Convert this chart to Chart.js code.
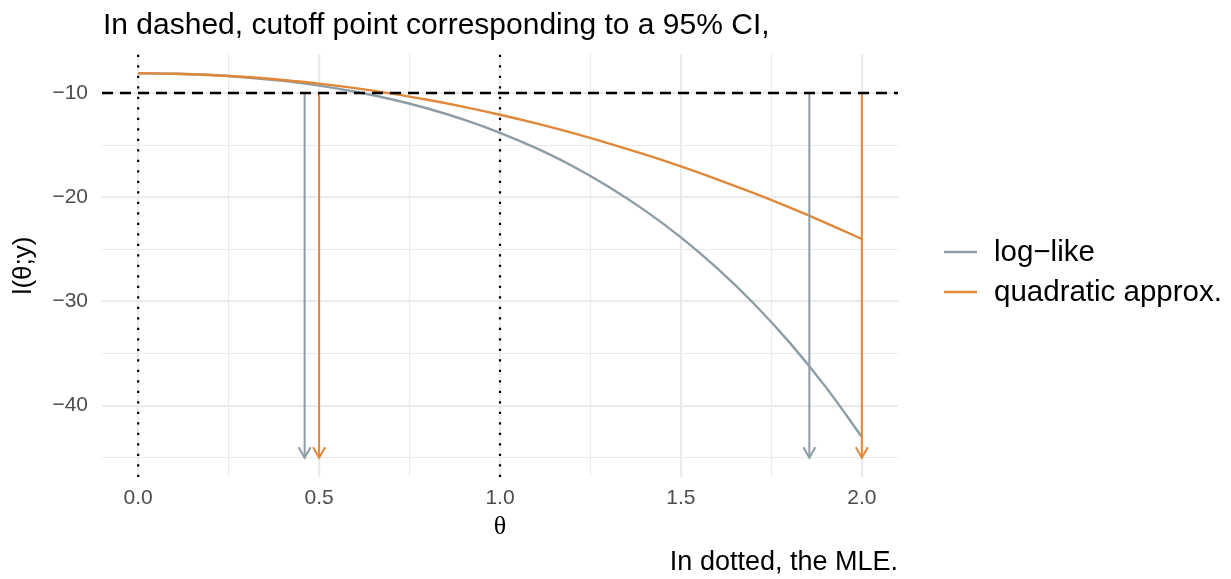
<!DOCTYPE html>
<html>
<head>
<meta charset="utf-8">
<script src="https://cdn.jsdelivr.net/npm/chart.js@4.4.0/dist/chart.umd.min.js"></script>
<style>
  html, body { margin: 0; padding: 0; background: #fff; }
  #wrap { width: 1231px; height: 579px; }
</style>
</head>
<body>
<div id="wrap"><canvas id="likChart" width="1231" height="579"></canvas></div>
<script>
// values
const theta = [0, 0.1, 0.2, 0.3, 0.4, 0.5, 0.6, 0.7, 0.8, 0.9, 1.0,
               1.1, 1.2, 1.3, 1.4, 1.5, 1.6, 1.7, 1.8, 1.9, 2.0];
const logLike = [-8.10, -8.14, -8.27, -8.50, -8.83, -9.28, -9.87, -10.59, -11.48, -12.55, -13.81,
                 -15.29, -17.00, -18.99, -21.26, -23.85, -26.81, -30.15, -33.93, -38.20, -42.99];
const quadApprox = [-8.10, -8.14, -8.26, -8.46, -8.74, -9.09, -9.53, -10.05, -10.64, -11.32, -12.08,
                    -12.91, -13.82, -14.82, -15.89, -17.04, -18.28, -19.59, -20.98, -22.45, -24.00];

const cutoff = -10;           // dashed line
const mle = [0, 1];           // dotted lines
const ciLogLike = [0.46, 1.855];
const ciQuad = [0.5, 2.0];
const arrowEnd = -45;

const xLimits = [-0.1, 2.1];
const yLimits = [-46.85, -6.25];
const xTicks = [0, 0.25, 0.5, 0.75, 1, 1.25, 1.5, 1.75, 2];
const xLabelled = [0, 0.5, 1, 1.5, 2];
const yTicks = [-45, -40, -35, -30, -25, -20, -15, -10];
const yLabelled = [-40, -30, -20, -10];

const seriesNames = ["log\u2212like", "quadratic approx."];
const greyCol = "#8C9DA5";
const orangeCol = "#E0883A";

const toXY = (xs, ys) => xs.map((x, i) => ({ x: x, y: ys[i] }));

function arrowSet(x, col) {
  return {
    data: [{ x: x, y: cutoff }, { x: x, y: arrowEnd }],
    borderColor: col, borderWidth: 2, pointRadius: 0, arrow: true
  };
}

const datasets = [
  // dotted MLE lines (top)
  ...mle.map(m => ({
    data: [{ x: m, y: yLimits[0] }, { x: m, y: yLimits[1] }],
    borderColor: "#000", borderWidth: 2.2, borderDash: [2.2, 8.3], pointRadius: 0
  })),
  // dashed cutoff
  {
    data: [{ x: xLimits[0], y: cutoff }, { x: xLimits[1], y: cutoff }],
    borderColor: "#000", borderWidth: 2.4, borderDash: [11, 7], pointRadius: 0
  },
  arrowSet(ciLogLike[0], greyCol), arrowSet(ciLogLike[1], greyCol),
  arrowSet(ciQuad[0], orangeCol), arrowSet(ciQuad[1], orangeCol),
  {
    label: seriesNames[1], data: toXY(theta, quadApprox),
    borderColor: orangeCol, borderWidth: 2.4, pointRadius: 0, cubicInterpolationMode: "monotone"
  },
  {
    label: seriesNames[0], data: toXY(theta, logLike),
    borderColor: greyCol, borderWidth: 2.4, pointRadius: 0, cubicInterpolationMode: "monotone"
  }
];

// open arrow heads at the end of the CI arrows
const arrowHeads = {
  id: "arrowHeads",
  afterDatasetsDraw(chart) {
    const ctx = chart.ctx;
    chart.data.datasets.forEach((ds, i) => {
      if (!ds.arrow) return;
      const pts = chart.getDatasetMeta(i).data;
      const tip = pts[pts.length - 1];
      ctx.save();
      ctx.strokeStyle = ds.borderColor;
      ctx.lineWidth = 2;
      ctx.beginPath();
      ctx.moveTo(tip.x - 6, tip.y - 10.5);
      ctx.lineTo(tip.x, tip.y);
      ctx.lineTo(tip.x + 6, tip.y - 10.5);
      ctx.stroke();
      ctx.restore();
    });
  }
};

// title, caption and legend
const decorations = {
  id: "decorations",
  afterDraw(chart) {
    const ctx = chart.ctx;
    const area = chart.chartArea;
    ctx.save();
    ctx.fillStyle = "#000";
    ctx.textBaseline = "alphabetic";
    ctx.font = "30px 'Liberation Sans', Arial, sans-serif";
    ctx.textAlign = "left";
    ctx.fillText("In dashed, cutoff point corresponding to a 95% CI,", area.left + 1, 34);
    ctx.font = "27px 'Liberation Sans', Arial, sans-serif";
    ctx.textAlign = "right";
    ctx.fillText("In dotted, the MLE.", area.right, 570);

    const rows = [[seriesNames[0], greyCol, 252], [seriesNames[1], orangeCol, 292]];
    ctx.font = "29.5px 'Liberation Sans', Arial, sans-serif";
    ctx.textAlign = "left";
    ctx.textBaseline = "middle";
    rows.forEach(r => {
      ctx.strokeStyle = r[1];
      ctx.lineWidth = 2.5;
      ctx.beginPath();
      ctx.moveTo(944, r[2]);
      ctx.lineTo(977, r[2]);
      ctx.stroke();
      ctx.fillText(r[0], 994, r[2] + 1);
    });
    ctx.restore();
  }
};

const gridWidth = (major) => (c) => (c.tick && major.includes(c.tick.value)) ? 2.2 : 1.1;

new Chart(document.getElementById("likChart"), {
  type: "line",
  data: { datasets: datasets },
  options: {
    responsive: false,
    devicePixelRatio: 1,
    animation: false,
    layout: { padding: { left: 0, right: 333, top: 54, bottom: 0 } },
    plugins: { legend: { display: false }, tooltip: { enabled: false } },
    scales: {
      x: {
        type: "linear",
        min: xLimits[0], max: xLimits[1],
        afterBuildTicks: s => { s.ticks = xTicks.map(v => ({ value: v })); },
        afterFit: s => { s.height = 102; },
        border: { display: false },
        grid: { color: "#EBEBEB", lineWidth: gridWidth(xLabelled), drawTicks: false },
        ticks: {
          autoSkip: false, maxRotation: 0, padding: 9, color: "#4D4D4D",
          font: { family: "'Liberation Sans', Arial, sans-serif", size: 21 },
          callback: v => xLabelled.includes(v) ? v.toFixed(1) : ""
        },
        title: {
          display: true, text: "\u03b8", color: "#000",
          font: { family: "'Liberation Serif', 'DejaVu Serif', serif", size: 26 },
          padding: { top: 0, bottom: 36 }
        }
      },
      y: {
        min: yLimits[0], max: yLimits[1],
        afterBuildTicks: s => { s.ticks = yTicks.map(v => ({ value: v })); },
        afterFit: s => { s.width = 102; },
        border: { display: false },
        grid: { color: "#EBEBEB", lineWidth: gridWidth(yLabelled), drawTicks: false },
        ticks: {
          autoSkip: false, padding: 14, color: "#4D4D4D",
          font: { family: "'Liberation Sans', Arial, sans-serif", size: 21 },
          callback: v => yLabelled.includes(v) ? "\u2212" + Math.abs(v) : ""
        },
        title: {
          display: true, text: "l(\u03b8;y)", color: "#000",
          font: { family: "'Liberation Sans', Arial, sans-serif", size: 26 },
          padding: { top: 8, bottom: 0 }
        }
      }
    }
  },
  plugins: [arrowHeads, decorations]
});
</script>
</body>
</html>
